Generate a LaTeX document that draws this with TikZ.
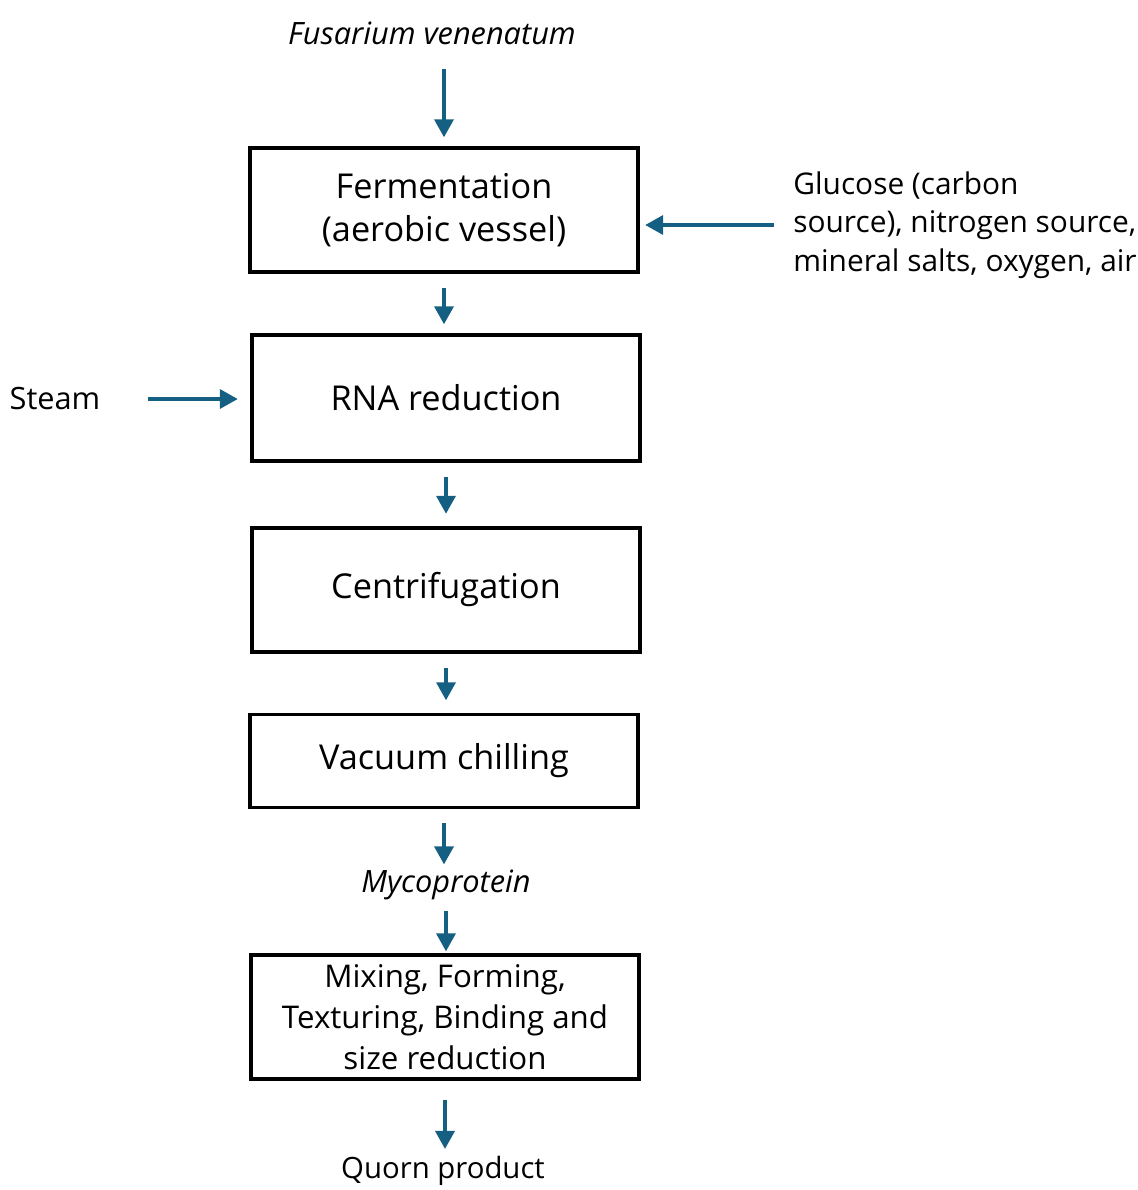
\documentclass[tikz,border=0pt]{standalone}
\usepackage{fontspec}
\setmainfont{Open Sans}
\usetikzlibrary{arrows.meta}
\definecolor{flowblue}{RGB}{21,96,130}
\begin{document}
\begin{tikzpicture}[x=0.02cm,y=-0.02cm,
        stage/.style={draw,line width=2.2pt,minimum width=7.76cm,minimum height=2.48cm,
                      align=center,font=\fontsize{19.5}{24.5}\selectfont,inner sep=0pt},
        label/.style={align=left,font=\fontsize{17}{22}\selectfont,inner sep=0pt},
        flow/.style={draw=flowblue,line width=2pt,-{Triangle[length=0.36cm,width=0.38cm]},
                     shorten <=8pt,shorten >=5pt}]
    \useasboundingbox (0,0) rectangle (1138,1190);

    \node[label,font=\fontsize{17.5}{22}\itshape] (fus) at (432,33) {Fusarium venenatum};
    \node[stage] (ferm) at (444,210) {Fermentation\\(aerobic vessel)};
    \node[stage,minimum height=2.52cm] (rna) at (446,398) {RNA reduction};
    \node[stage] (cen) at (446,590) {Centrifugation};
    \node[stage,minimum height=1.86cm] (vac) at (444,761) {Vacuum chilling};
    \node[label,font=\fontsize{17.5}{22}\itshape] (myco) at (446,885) {Mycoprotein};
    \node[stage,font=\fontsize{17.8}{23.5}\selectfont] (mix) at (445,1017) {Mixing, Forming,\\Texturing, Binding and\\size reduction};
    \node[label,font=\fontsize{16.7}{22}\selectfont] (quorn) at (443,1171) {Quorn product};

    \node[label,anchor=west] (glu) at (793,225) {Glucose (carbon\\source), nitrogen source,\\mineral salts, oxygen, air};
    \node[label,font=\fontsize{17.5}{22}\selectfont] (steam) at (55,399) {Steam};

    % vertical flow
    \draw[flow,shorten <=14pt] (fus.south -| ferm.north) -- (ferm.north);
    \draw[flow] (ferm.south) -- (ferm.south |- rna.north);
    \draw[flow,shorten >=7pt] (rna.south) -- (rna.south |- cen.north);
    \draw[flow,shorten >=7pt] (cen.south) -- (cen.south |- vac.north);
    \draw[flow,shorten >=3pt] (vac.south) -- (vac.south |- myco.north);
    \draw[flow,shorten <=6pt,shorten >=1pt] (myco.south) -- (myco.south |- mix.north);
    \draw[flow,shorten <=11pt,shorten >=4pt] (mix.south) -- (mix.south |- quorn.north);
    % side inputs
    \draw[flow,shorten <=11pt,shorten >=3pt] (glu.west) -- (glu.west -| ferm.east);
    \draw[flow,shorten <=27pt,shorten >=7pt] (steam.east) -- (steam.east -| rna.west);
\end{tikzpicture}
\end{document}
